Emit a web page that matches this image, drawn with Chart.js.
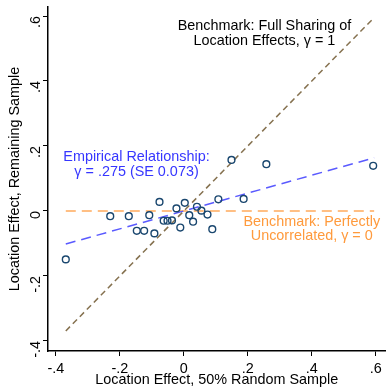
<!DOCTYPE html>
<html lang="en">
<head>
    <meta charset="UTF-8">
    <title>Location Effects</title>
    <style>
        html, body { margin: 0; padding: 0; background: #fff; }
        #wrap { width: 391px; height: 389px; }
    </style>
</head>
<body>
    <div id="wrap"><canvas id="effectsChart"></canvas></div>

    <script src="https://cdn.jsdelivr.net/npm/chart.js@4.4.0/dist/chart.umd.min.js"></script>

    <script>
        // location effects: 50% random sample vs remaining sample
        const randomSample = [-0.369, -0.230, -0.172, -0.108, -0.147, -0.124, -0.092, -0.076, -0.063, -0.051,
            -0.037, -0.023, -0.011, 0.003, 0.017, 0.029, 0.041, 0.055, 0.074, 0.089,
            0.108, 0.187, 0.149, 0.258, 0.592];
        const remainingSample = [-0.149, -0.016, -0.016, -0.013, -0.061, -0.061, -0.069, 0.028, -0.030, -0.030,
            -0.029, 0.008, -0.051, 0.025, -0.013, -0.033, 0.013, 0.001, -0.011, -0.056,
            0.036, 0.037, 0.157, 0.144, 0.139];

        const lineX = [-0.369, 0.595];
        const slope = 0.275;
        const axisTicks = [-0.4, -0.2, 0, 0.2, 0.4, 0.6];

        const fmt = v => {
            if (Math.abs(v) < 1e-9) return '0';
            return (v < 0 ? '-' : '') + String(Math.abs(v).toFixed(1)).replace(/^0/, '');
        };

        const labels = [
            { x: 0.252, y: [0.569, 0.523], lines: ['Benchmark: Full Sharing of', 'Location Effects, \u03b3 = 1'], color: '#000000' },
            { x: -0.148, y: [0.167, 0.121], lines: ['Empirical Relationship:', '\u03b3 = .275 (SE 0.073)'], color: '#3636ff' },
            { x: 0.400, y: [-0.035, -0.076], lines: ['Benchmark: Perfectly', 'Uncorrelated, \u03b3 = 0'], color: '#ff9a3c' }
        ];

        const FONT = '"Liberation Sans", Arial, Helvetica, sans-serif';
        const SIZE = 14.4;

        const textPlugin = {
            id: 'notes',
            afterDatasetsDraw(chart) {
                const ctx = chart.ctx;
                const xs = chart.scales.x, ys = chart.scales.y;
                ctx.save();
                ctx.font = SIZE + 'px ' + FONT;
                ctx.textAlign = 'center';
                ctx.textBaseline = 'middle';
                labels.forEach(l => {
                    ctx.fillStyle = l.color;
                    l.lines.forEach((t, i) => {
                        ctx.fillText(t, xs.getPixelForValue(l.x), ys.getPixelForValue(l.y[i]));
                    });
                });
                ctx.restore();
            }
        };

        const points = randomSample.map((x, i) => ({ x: x, y: remainingSample[i] }));

        // no automatic label padding, the plot box is fixed by hand
        const noPad = s => { s.paddingTop = 0; s.paddingBottom = 0; s.paddingLeft = 0; s.paddingRight = 0; };

        const axis = title => ({
            type: 'linear',
            afterBuildTicks: s => { s.ticks = axisTicks.map(v => ({ value: v })); },
            border: { display: true, color: '#000', width: 1.5 },
            grid: { display: true, drawOnChartArea: false, drawTicks: true, tickLength: 5, color: '#000', lineWidth: 1 },
            ticks: { color: '#000', font: { family: FONT, size: SIZE }, padding: 3, callback: v => fmt(v) },
            title: { display: true, text: title, color: '#000', font: { family: FONT, size: SIZE }, padding: 0 }
        });

        const xAxis = axis('Location Effect, 50% Random Sample');
        xAxis.min = -0.4246; xAxis.max = 0.6308;
        xAxis.ticks.padding = 4;
        xAxis.afterFit = s => { s.height = 38; noPad(s); };

        const yAxis = axis('Location Effect, Remaining Sample');
        yAxis.min = -0.4308; yAxis.max = 0.6277;
        yAxis.ticks.minRotation = 90;
        yAxis.ticks.maxRotation = 90;
        yAxis.ticks.padding = 7;
        yAxis.title.padding = { top: 6, bottom: 0 };
        yAxis.afterFit = s => { s.width = 48; noPad(s); };

        new Chart(document.getElementById('effectsChart'), {
            type: 'scatter',
            data: {
                datasets: [
                    {
                        data: points,
                        pointRadius: 3.4,
                        pointBorderWidth: 1.4,
                        pointBorderColor: '#1a476f',
                        pointBackgroundColor: 'rgba(0,0,0,0)',
                        showLine: false
                    },
                    {
                        type: 'line',
                        data: lineX.map(x => ({ x: x, y: x })),
                        borderColor: '#85714f',
                        borderWidth: 1.5,
                        borderDash: [6, 4],
                        pointRadius: 0
                    },
                    {
                        type: 'line',
                        data: lineX.map(x => ({ x: x, y: slope * x })),
                        borderColor: '#5a5aff',
                        borderWidth: 1.5,
                        borderDash: [10, 6],
                        pointRadius: 0
                    },
                    {
                        type: 'line',
                        data: lineX.map(x => ({ x: x, y: 0 })),
                        borderColor: '#ffab5c',
                        borderWidth: 1.5,
                        borderDash: [10, 6],
                        pointRadius: 0
                    }
                ]
            },
            options: {
                responsive: true,
                maintainAspectRatio: false,
                animation: false,
                layout: { padding: { top: 7, right: 0, left: 0, bottom: 0 } },
                plugins: { legend: { display: false }, tooltip: { enabled: false } },
                scales: { x: xAxis, y: yAxis }
            },
            plugins: [textPlugin]
        });
    </script>
</body>
</html>
